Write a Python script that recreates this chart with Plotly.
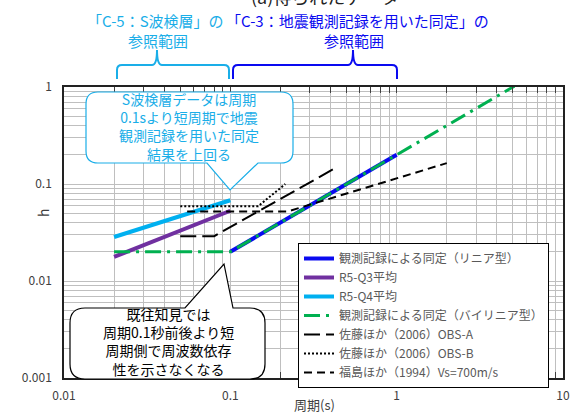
import plotly.graph_objects as go

# 周期(s) と 減衰定数 h
period_linear = [0.1, 1.0]
h_linear = [0.02, 0.2]

period_q3 = [0.02, 0.1]
h_q3 = [0.0177, 0.053]

period_q4 = [0.02, 0.1]
h_q4 = [0.0284, 0.068]

period_bilinear = [0.02, 0.1, 5.1]
h_bilinear = [0.02, 0.02, 1.02]

period_obs_a = [0.05, 0.08, 0.44]
h_obs_a = [0.029, 0.029, 0.15]

period_obs_b = [0.05, 0.147, 0.214]
h_obs_b = [0.059, 0.059, 0.1]

period_fukushima = [0.055, 0.22, 2.0]
h_fukushima = [0.052, 0.052, 0.164]

x_tickvals = [0.01, 0.1, 1, 10]
x_ticktext = ['0.01', '0.1', '1', '10']
y_tickvals = [0.001, 0.01, 0.1, 1]
y_ticktext = ['0.001', '0.01', '0.1', '1']

W, H = 581, 416
L, R, T, B = 64, 18, 87, 38
FONT = 'Noto Sans CJK JP'
CYAN = '#1aaee8'
BLUE = '#0a0af0'


def px(x, y):
    # pixel -> paper
    return (x - L) / (W - L - R), (H - B - y) / (H - T - B)


def path(points):
    out = ''
    for cmd, *pts in points:
        out += cmd
        for (x, y) in pts:
            a, b = px(x, y)
            out += f' {a:.5f},{b:.5f} '
    return out


minor_vals = [d * 10 ** e for e in range(-3, 1) for d in range(2, 10)]

fig = go.Figure()
fig.add_trace(go.Scatter(x=period_linear, y=h_linear, mode='lines',
                         name='観測記録による同定（リニア型）',
                         line=dict(color=BLUE, width=4)))
fig.add_trace(go.Scatter(x=period_q3, y=h_q3, mode='lines', name='R5-Q3平均',
                         line=dict(color='#7030a0', width=4)))
fig.add_trace(go.Scatter(x=period_q4, y=h_q4, mode='lines', name='R5-Q4平均',
                         line=dict(color='#00b0f0', width=4)))
fig.add_trace(go.Scatter(x=period_bilinear, y=h_bilinear, mode='lines',
                         name='観測記録による同定（バイリニア型）',
                         line=dict(color='#00b050', width=3, dash='16px,6px,3px,6px')))
fig.add_trace(go.Scatter(x=period_obs_a, y=h_obs_a, mode='lines',
                         name='佐藤ほか（2006）OBS-A',
                         line=dict(color='black', width=2, dash='16px,6px')))
fig.add_trace(go.Scatter(x=period_obs_b, y=h_obs_b, mode='lines',
                         name='佐藤ほか（2006）OBS-B',
                         line=dict(color='black', width=2, dash='2px,2px')))
fig.add_trace(go.Scatter(x=period_fukushima, y=h_fukushima, mode='lines',
                         name='福島ほか（1994）Vs=700m/s',
                         line=dict(color='black', width=2, dash='8px,5px')))

shapes = []
# 吹き出し（水色）
shapes.append(dict(type='path', xref='paper', yref='paper', layer='above',
                   fillcolor='white', line=dict(color=CYAN, width=1.2),
                   path=path([('M', (98, 92)), ('L', (281, 92)), ('Q', (293, 92), (293, 104)),
                              ('L', (293, 151)), ('Q', (293, 163), (281, 163)),
                              ('L', (258, 163)), ('L', (230, 190)), ('L', (207, 163)),
                              ('L', (98, 163)), ('Q', (86, 163), (86, 151)),
                              ('L', (86, 104)), ('Q', (86, 92), (98, 92))]) + 'Z'))
# 吹き出し（黒）
shapes.append(dict(type='path', xref='paper', yref='paper', layer='above',
                   fillcolor='white', line=dict(color='black', width=1.2),
                   path=path([('M', (85, 308)), ('L', (185, 308)), ('L', (224, 264)),
                              ('L', (233, 308)), ('L', (250, 308)), ('Q', (265, 308), (265, 323)),
                              ('L', (265, 364)), ('Q', (265, 379), (250, 379)),
                              ('L', (85, 379)), ('Q', (70, 379), (70, 364)),
                              ('L', (70, 323)), ('Q', (70, 308), (85, 308))]) + 'Z'))


def brace(x0, x1, xm, color):
    return dict(type='path', xref='paper', yref='paper', layer='above',
                line=dict(color=color, width=2),
                path=path([('M', (x0, 79)), ('L', (x0, 70)), ('Q', (x0, 65), (x0 + 5, 65)),
                           ('L', (xm - 5, 65)), ('Q', (xm, 65), (xm, 50)),
                           ('Q', (xm, 65), (xm + 5, 65)), ('L', (x1 - 5, 65)),
                           ('Q', (x1, 65), (x1, 70)), ('L', (x1, 79))]))


shapes.append(brace(117, 229, 157, CYAN))
shapes.append(brace(233, 397, 353, BLUE))

annotations = []


def note(text, x, y, size, color, xanchor='center', angle=0):
    a, b = px(x, y)
    annotations.append(dict(text=text, x=a, y=b, xref='paper', yref='paper',
                            xanchor=xanchor, yanchor='middle', showarrow=False,
                            textangle=angle, font=dict(family=FONT, size=size, color=color)))


note('(a)得られたデータ', 325, -4, 18, '#222222')
note('「C-5：S波検層」の', 226, 21, 15, CYAN, 'right')
note('「C-3：地震観測記録を用いた同定」の', 224, 21, 15, BLUE, 'left')
note('参照範囲', 158, 41, 15, CYAN)
note('参照範囲', 354, 41, 15, BLUE)

note('S波検層データは周期<br>0.1sより短周期で地震<br>観測記録を用いた同定<br>結果を上回る',
     189, 127, 14, CYAN)
note('既往知見では<br>周期0.1秒前後より短<br>周期側で周波数依存<br>性を示さなくなる',
     168, 341, 14, 'black')

note('周期(s)', 314, 404, 13, '#404040')
note('h', 43, 213, 14, '#404040', angle=-90)

fig.update_layout(
    width=W, height=H,
    margin=dict(l=L, r=R, t=T, b=B),
    plot_bgcolor='white',
    paper_bgcolor='white',
    font=dict(family=FONT, size=12, color='#404040'),
    showlegend=True,
    legend=dict(x=px(298, 0)[0], y=px(0, 243)[1], xanchor='left', yanchor='top',
                bgcolor='white', bordercolor='black', borderwidth=1,
                font=dict(family=FONT, size=12, color='#595959'),
                tracegroupgap=0),
    xaxis=dict(type='log', range=[-2, 1], tickmode='array', tickvals=x_tickvals, ticktext=x_ticktext,
               showgrid=True, gridcolor='#bfbfbf', gridwidth=1,
               showline=True, linecolor='#222222', linewidth=1.5, mirror='allticks',
               ticks='inside', ticklen=6, tickcolor='#404040', ticklabelstandoff=6,
               minor=dict(tickmode='array', tickvals=minor_vals, showgrid=True,
                          gridcolor='#bfbfbf', gridwidth=1, ticks='inside', ticklen=6,
                          tickcolor='#404040'),
               zeroline=False),
    yaxis=dict(type='log', range=[-3, 0], tickmode='array', tickvals=y_tickvals, ticktext=y_ticktext,
               showgrid=True, gridcolor='#bfbfbf', gridwidth=1,
               showline=True, linecolor='#222222', linewidth=1.5, mirror=True,
               ticks='', ticklabelstandoff=8,
               minor=dict(tickmode='array', tickvals=minor_vals, showgrid=True,
                          gridcolor='#bfbfbf', gridwidth=1),
               zeroline=False),
    shapes=shapes,
    annotations=annotations,
)

fig.write_html('out.html', config={'displayModeBar': False},
               post_script="document.body.style.margin='0';")
